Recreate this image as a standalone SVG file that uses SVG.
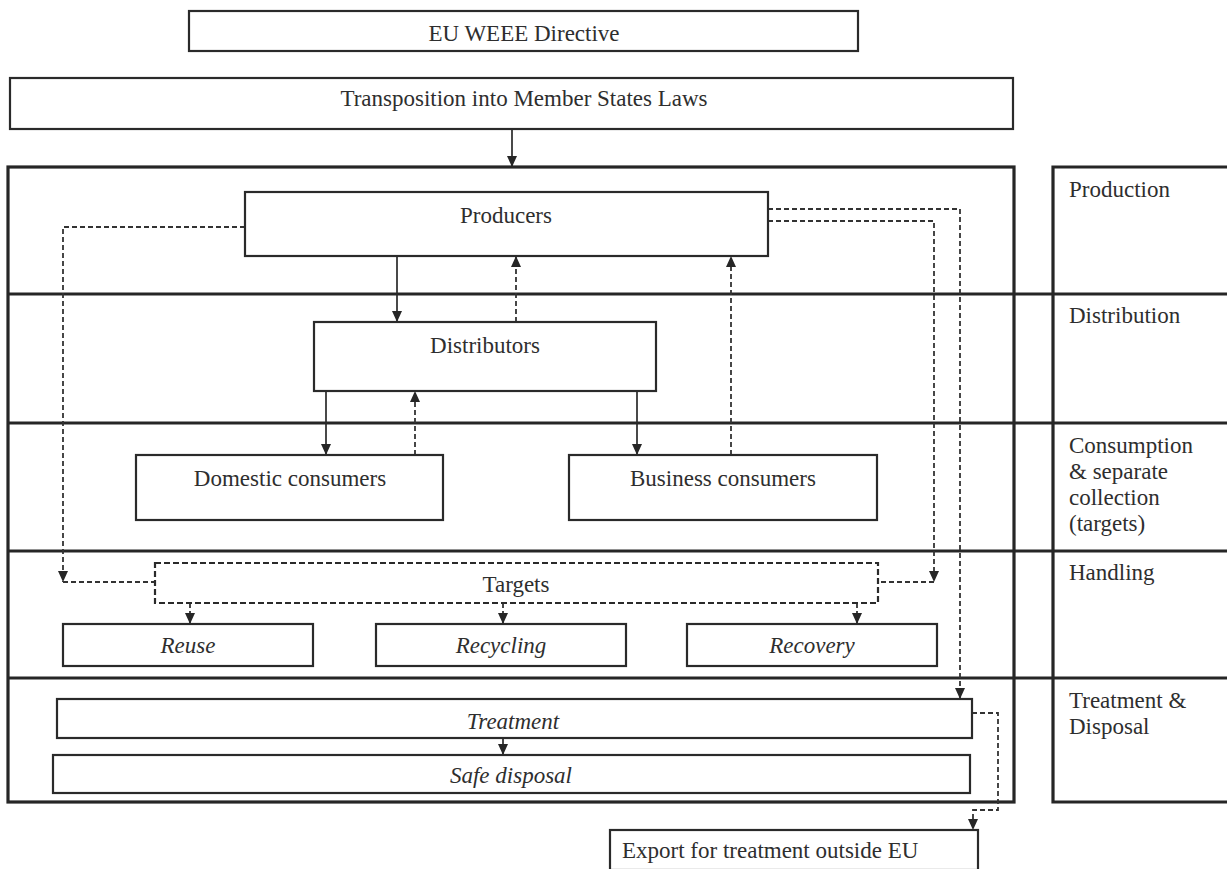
<svg xmlns="http://www.w3.org/2000/svg" width="1227" height="869" viewBox="0 0 1227 869">
<defs>
<marker id="ah" markerUnits="userSpaceOnUse" markerWidth="11" markerHeight="10" refX="11" refY="5" orient="auto">
<path d="M0,0 L11,5 L0,10 z" fill="#262626"/>
</marker>
<style>
.box{fill:#fff;stroke:#2a2a2a;stroke-width:2.2}
.thick{fill:none;stroke:#262626;stroke-width:3.2}
.div{stroke:#262626;stroke-width:3.2}
.t{font-family:"Liberation Serif","Times New Roman",serif;font-size:23px;fill:#2e2e2e}
.c{text-anchor:middle}
.i{font-style:italic}
.solid{fill:none;stroke:#2a2a2a;stroke-width:1.7}
.dash{fill:none;stroke:#333;stroke-width:1.8;stroke-dasharray:5 3}
.dbox{fill:none;stroke:#2a2a2a;stroke-width:2.2;stroke-dasharray:6 3}
</style>
</defs>
<rect width="1227" height="869" fill="#fff"/>

<g id="frame">
<rect class="thick" x="8" y="167" width="1006" height="635"/>
<path class="thick" d="M1227,167 H1053 V802 H1227"/>
<line class="div" x1="8" y1="294" x2="1227" y2="294"/>
<line class="div" x1="8" y1="423" x2="1227" y2="423"/>
<line class="div" x1="8" y1="551" x2="1227" y2="551"/>
<line class="div" x1="8" y1="678" x2="1227" y2="678"/>
</g>

<g id="stage-labels">
<text class="t" x="1069" y="197">Production</text>
<text class="t" x="1069" y="323">Distribution</text>
<text class="t" x="1069" y="453">Consumption</text>
<text class="t" x="1069" y="479">&amp; separate</text>
<text class="t" x="1069" y="505">collection</text>
<text class="t" x="1069" y="531">(targets)</text>
<text class="t" x="1069" y="580">Handling</text>
<text class="t" x="1069" y="708">Treatment &amp;</text>
<text class="t" x="1069" y="734">Disposal</text>
</g>

<g id="connectors">
<line class="solid" x1="512" y1="129" x2="512" y2="167" marker-end="url(#ah)"/>
<line class="solid" x1="397" y1="256" x2="397" y2="322" marker-end="url(#ah)"/>
<line class="dash" x1="516" y1="322" x2="516" y2="256" marker-end="url(#ah)"/>
<line class="dash" x1="731" y1="455" x2="731" y2="256" marker-end="url(#ah)"/>
<line class="solid" x1="326" y1="391" x2="326" y2="455" marker-end="url(#ah)"/>
<line class="dash" x1="415" y1="455" x2="415" y2="391" marker-end="url(#ah)"/>
<line class="solid" x1="637" y1="391" x2="637" y2="455" marker-end="url(#ah)"/>
<path class="dash" d="M245,227 H63 V582" marker-end="url(#ah)"/>
<line class="dash" x1="63" y1="582" x2="155" y2="582"/>
<path class="dash" d="M768,221 H934 V582" marker-end="url(#ah)"/>
<line class="dash" x1="934" y1="582" x2="878" y2="582"/>
<path class="dash" d="M768,209 H960 V699" marker-end="url(#ah)"/>
<line class="dash" x1="190" y1="603" x2="190" y2="624" marker-end="url(#ah)"/>
<line class="dash" x1="503" y1="603" x2="503" y2="624" marker-end="url(#ah)"/>
<line class="dash" x1="857" y1="603" x2="857" y2="624" marker-end="url(#ah)"/>
<line class="solid" x1="503" y1="738" x2="503" y2="755" marker-end="url(#ah)"/>
<path class="dash" d="M972,713 H998 V810 H973 V830" marker-end="url(#ah)"/>
</g>

<g id="eu-weee">
<rect class="box" x="189" y="11" width="669" height="40"/>
<text class="t c" x="524" y="41">EU WEEE Directive</text>
</g>
<g id="transposition">
<rect class="box" x="10" y="78" width="1003" height="51"/>
<text class="t c" x="524" y="106">Transposition into Member States Laws</text>
</g>
<g id="producers">
<rect class="box" x="245" y="192" width="523" height="64"/>
<text class="t c" x="506" y="223">Producers</text>
</g>
<g id="distributors">
<rect class="box" x="314" y="322" width="342" height="69"/>
<text class="t c" x="485" y="353">Distributors</text>
</g>
<g id="domestic">
<rect class="box" x="136" y="455" width="307" height="65"/>
<text class="t c" x="290" y="486">Domestic consumers</text>
</g>
<g id="business">
<rect class="box" x="569" y="455" width="308" height="65"/>
<text class="t c" x="723" y="486">Business consumers</text>
</g>
<g id="targets">
<rect class="dbox" x="155" y="563" width="723" height="40"/>
<text class="t c" x="516" y="592">Targets</text>
</g>
<g id="reuse">
<rect class="box" x="63" y="624" width="250" height="42"/>
<text class="t c i" x="188" y="653">Reuse</text>
</g>
<g id="recycling">
<rect class="box" x="376" y="624" width="250" height="42"/>
<text class="t c i" x="501" y="653">Recycling</text>
</g>
<g id="recovery">
<rect class="box" x="687" y="624" width="250" height="42"/>
<text class="t c i" x="812" y="653">Recovery</text>
</g>
<g id="treatment">
<rect class="box" x="57" y="699" width="915" height="39"/>
<text class="t c i" x="513" y="729">Treatment</text>
</g>
<g id="safe-disposal">
<rect class="box" x="53" y="755" width="917" height="38"/>
<text class="t c i" x="511" y="783">Safe disposal</text>
</g>
<g id="export">
<rect class="box" x="610" y="830" width="368" height="40"/>
<text class="t" x="622" y="858">Export for treatment outside EU</text>
</g>
</svg>
